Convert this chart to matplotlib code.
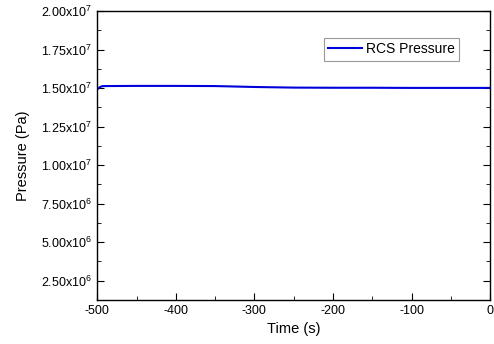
import matplotlib.pyplot as plt
from matplotlib.ticker import FuncFormatter, MultipleLocator

plt.rcParams['font.family'] = ['Liberation Sans', 'DejaVu Sans']
plt.rcParams['mathtext.fontset'] = 'custom'
plt.rcParams['mathtext.rm'] = 'Liberation Sans'
plt.rcParams['axes.unicode_minus'] = False

# RCS pressure history
time = [-500, -497, -494, -490, -450, -400, -350, -300, -250, -200, -150, -100, -50, 0]
pressure = [1.492e7, 1.505e7, 1.512e7, 1.513e7, 1.514e7, 1.514e7, 1.513e7, 1.507e7,
            1.503e7, 1.502e7, 1.502e7, 1.501e7, 1.501e7, 1.501e7]

fig, ax = plt.subplots(figsize=(4.94, 3.44), dpi=100)
fig.subplots_adjust(left=0.197, right=0.992, top=0.968, bottom=0.128)

ax.plot(time, pressure, color='#0000dd', linewidth=1.5, label='RCS Pressure')

ax.set_xlim(-500, 0)
ax.set_ylim(1.25e6, 2.0e7)
ax.xaxis.set_major_locator(MultipleLocator(100))
ax.xaxis.set_minor_locator(MultipleLocator(50))
ax.yaxis.set_major_locator(MultipleLocator(2.5e6))
ax.yaxis.set_minor_locator(MultipleLocator(1.25e6))


def sci(v, pos):
    if v <= 0:
        return ''
    e = len(str(int(round(v)))) - 1
    return r'%.2fx10$^{%d}$' % (v / 10 ** e, e)


ax.yaxis.set_major_formatter(FuncFormatter(sci))
ax.tick_params(which='both', direction='in', right=True, top=False, labelsize=9)
ax.tick_params(which='major', length=5)
ax.tick_params(which='minor', length=3)
for s in ax.spines.values():
    s.set_linewidth(1.0)

ax.set_xlabel('Time (s)', fontsize=10.5)
ax.set_ylabel('Pressure (Pa)', fontsize=10.5, labelpad=8)

leg = ax.legend(loc='upper left', bbox_to_anchor=(0.56, 0.93), fontsize=10,
                frameon=True, fancybox=False, borderpad=0.3, handlelength=2.4,
                handletextpad=0.3)
leg.get_frame().set_edgecolor('#808080')
leg.get_frame().set_linewidth(0.8)

fig.savefig('out.png', dpi=100)
